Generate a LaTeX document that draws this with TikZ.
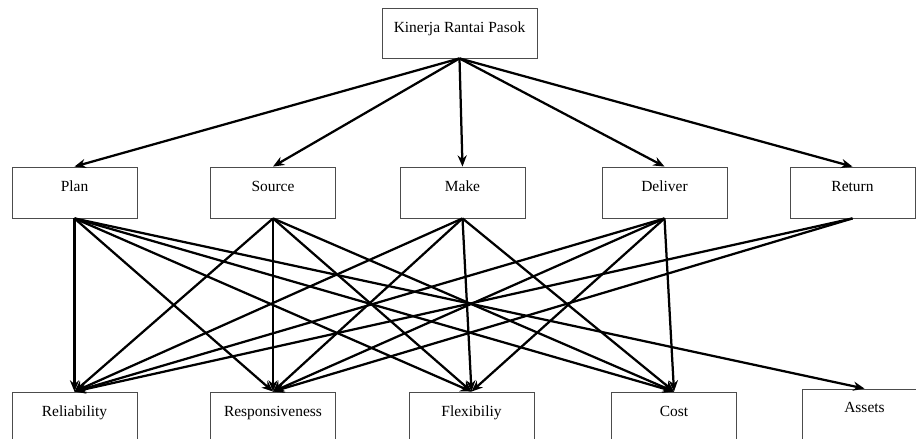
\documentclass[tikz,border=0pt]{standalone}
\usepackage{fontspec}
\setmainfont{Liberation Serif}
\usetikzlibrary{arrows.meta}
\tikzset{
  box/.style={draw=black!70, line width=0.6pt, inner sep=0pt, minimum width=3.125cm,
    text height=0.625cm, text depth=0.65cm, font=\fontsize{11}{13}\selectfont},
  topbox/.style={box, minimum width=3.875cm, text depth=0.625cm},
  lowbox/.style={box, text height=0.6cm, text depth=0.675cm},
  link/.style={-{Stealth[length=8pt,width=6.5pt]}, line width=1.6pt}
}
\begin{document}
\begin{tikzpicture}[x=0.025cm,y=-0.025cm]
      \useasboundingbox (0,0) rectangle (916,439);
      \clip (0,0) rectangle (916,439);
      \draw
        (459.5,33) node[topbox] (kinerja){Kinerja Rantai Pasok}
        (74.5,192.5) node[box] (plan){Plan}
        (273,192.5) node[box] (source){Source}
        (462.5,192.5) node[box] (make){Make}
        (664.5,192.5) node[box] (deliver){Deliver}
        (852.5,192.5) node[box] (return){Return}
        (74.5,417.5) node[lowbox] (reliability){Reliability}
        (273,417.5) node[lowbox] (responsiveness){Responsiveness}
        (471.5,417.5) node[lowbox] (flexibility){Flexibiliy}
        (674,417.5) node[lowbox] (cost){Cost}
        (864.5,414.5) node[lowbox] (assets){Assets};
      \begin{scope}[link]
        \draw (kinerja.south) to (plan.north);
        \draw (kinerja.south) to (source.north);
        \draw (kinerja.south) to (make.north);
        \draw (kinerja.south) to (deliver.north);
        \draw (kinerja.south) to (return.north);
        \draw (plan.south) to (reliability.north);
        \draw (plan.south) to (responsiveness.north);
        \draw (plan.south) to (flexibility.north);
        \draw (plan.south) to (cost.north);
        \draw (plan.south) to (assets.north);
        \draw (source.south) to (reliability.north);
        \draw (source.south) to (responsiveness.north);
        \draw (source.south) to (flexibility.north);
        \draw (source.south) to (cost.north);
        \draw (make.south) to (reliability.north);
        \draw (make.south) to (responsiveness.north);
        \draw (make.south) to (flexibility.north);
        \draw (make.south) to (cost.north);
        \draw (deliver.south) to (reliability.north);
        \draw (deliver.south) to (responsiveness.north);
        \draw (deliver.south) to (flexibility.north);
        \draw (deliver.south) to (cost.north);
        \draw (return.south) to (reliability.north);
        \draw (return.south) to (responsiveness.north);
      \end{scope}
    \end{tikzpicture}
\end{document}
